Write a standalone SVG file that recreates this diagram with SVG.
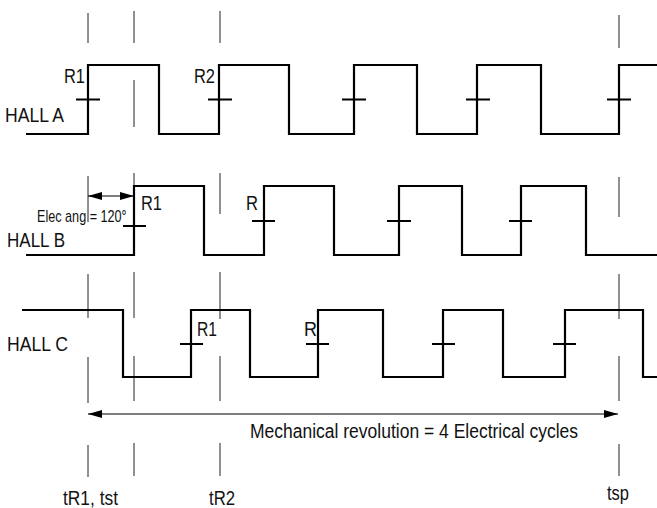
<svg xmlns="http://www.w3.org/2000/svg" width="657" height="508" viewBox="0 0 657 508">
<style>
.wave{fill:none;stroke:#000;stroke-width:2.2;stroke-linejoin:miter}
.tick{stroke:#000;stroke-width:1.8}
.ref{stroke:#222;stroke-width:1}
.dim{stroke:#000;stroke-width:1.2;fill:none}
text{font-family:"Liberation Sans",Arial,sans-serif;fill:#111}
.lbl{font-size:20px}
.small{font-size:16px}
</style>
<defs>
<marker id="ah" viewBox="0 0 14 8" refX="14" refY="4" markerWidth="14" markerHeight="8" markerUnits="userSpaceOnUse" orient="auto-start-reverse">
<path d="M0,0 L14,4 L0,8 Z" fill="#000"/>
</marker>
</defs>
<rect width="657" height="508" fill="#fff"/>
<g id="connectors">
<g id="reference-lines">
<path class="ref" d="M88,13V43M88,176V222M88,274V318M88,357V403M88,445V477"/>
<path class="ref" d="M134,11V43M134,80V127M134,173V187M134,272V318M134,356V401M134,443V476"/>
<path class="ref" d="M220,11V43M220,173V214M220,272V319M220,356V401M220,443V476"/>
<path class="ref" d="M619,15V48M619,177V217M619,274V319M619,356V401M619,444V476"/>
</g>
<line id="elec-angle-arrow" class="dim" x1="88" y1="196" x2="134" y2="196" marker-start="url(#ah)" marker-end="url(#ah)"/>
<line id="mech-rev-arrow" class="dim" x1="88" y1="414" x2="618" y2="414" marker-start="url(#ah)" marker-end="url(#ah)"/>
</g>
<g id="hall-a">
<path class="wave" d="M26,134H88V65H159V134H219V65H289V134H354V65H417V134H477V65H541V134H619V65H657"/>
<path class="tick" d="M76,99.5H100M208,99.5H232M342,99.5H366M466,99.5H490M607,99.5H631"/>
<text class="lbl" x="5" y="122" textLength="59" lengthAdjust="spacingAndGlyphs">HALL A</text>
<text class="lbl" x="64" y="83" textLength="21" lengthAdjust="spacingAndGlyphs">R1</text>
<text class="lbl" x="194" y="83" textLength="21" lengthAdjust="spacingAndGlyphs">R2</text>
</g>
<g id="hall-b">
<path class="wave" d="M26,255H134V186H204V255H264V186H334V255H399V186H462V255H521V186H586V255H657"/>
<path class="tick" d="M123,226H146M252,221H275M387,221H411M509,221H532"/>
<text class="lbl" x="7" y="247" textLength="58" lengthAdjust="spacingAndGlyphs">HALL B</text>
<text class="lbl" x="141" y="210" textLength="21" lengthAdjust="spacingAndGlyphs">R1</text>
<text class="lbl" x="246" y="210" textLength="12" lengthAdjust="spacingAndGlyphs">R</text>
<text class="small" transform="translate(37,221.5) scale(0.79,1)" x="0" y="0">Elec ang = 120°</text>
</g>
<g id="hall-c">
<path class="wave" d="M22,310H123V377H191V310H250V377H318V310H383V377H443V310H503V377H565V310H643V377H657"/>
<path class="tick" d="M180,344H203M306,344H329M432,344H455M553,344H576"/>
<text class="lbl" x="7" y="351" textLength="61" lengthAdjust="spacingAndGlyphs">HALL C</text>
<text class="lbl" x="197" y="336" textLength="20" lengthAdjust="spacingAndGlyphs">R1</text>
<text class="lbl" x="304" y="336" textLength="13" lengthAdjust="spacingAndGlyphs">R</text>
</g>
<g id="labels">
<text class="lbl" x="250" y="438" textLength="328" lengthAdjust="spacingAndGlyphs">Mechanical revolution = 4 Electrical cycles</text>
<text class="lbl" x="63" y="505" textLength="55" lengthAdjust="spacingAndGlyphs">tR1, tst</text>
<text class="lbl" x="209" y="505" textLength="26" lengthAdjust="spacingAndGlyphs">tR2</text>
<text class="lbl" x="607" y="500" textLength="22" lengthAdjust="spacingAndGlyphs">tsp</text>
</g>
</svg>
